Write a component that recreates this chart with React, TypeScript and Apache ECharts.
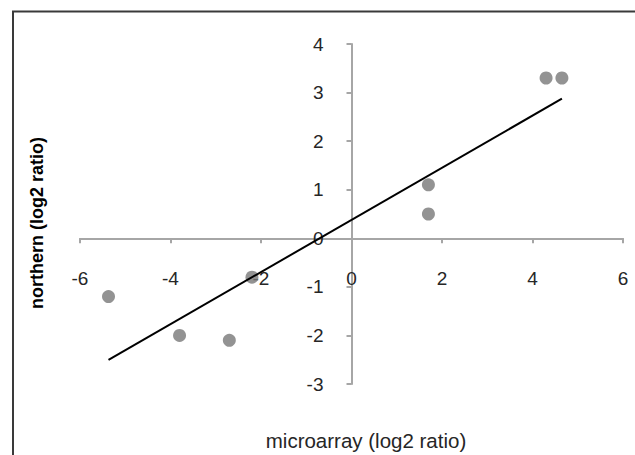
import React, { useEffect, useRef } from "react";
import * as echarts from "echarts";

const microarray = [-5.37, -3.8, -2.7, -2.2, 1.7, 1.7, 4.3, 4.65];
const northern = [-1.2, -2.0, -2.1, -0.8, 1.1, 0.5, 3.3, 3.3];
const xTicks = { min: -6, max: 6, interval: 2 };
const yTicks = { min: -3, max: 4, interval: 1 };
const xTitle = "microarray (log2 ratio)";
const yTitle = "northern (log2 ratio)";

function regression(xs: number[], ys: number[]) {
  const n = xs.length;
  const mx = xs.reduce((a, b) => a + b, 0) / n;
  const my = ys.reduce((a, b) => a + b, 0) / n;
  let sxy = 0, sxx = 0;
  for (let i = 0; i < n; i++) {
    sxy += (xs[i] - mx) * (ys[i] - my);
    sxx += (xs[i] - mx) * (xs[i] - mx);
  }
  const slope = sxy / sxx;
  return { slope, intercept: my - slope * mx };
}

const W = 635;
const H = 455;
const G = { left: 80, right: 12, top: 44, bottom: 71 };

export default function App() {
  const ref = useRef<HTMLDivElement>(null);
  useEffect(() => {
    if (!ref.current) return;
    const chart = echarts.init(ref.current, null, { renderer: "svg" });
    const { slope, intercept } = regression(microarray, northern);
    const x0 = Math.min(...microarray);
    const x1 = Math.max(...microarray);
    const font = "Arial, 'Liberation Sans', sans-serif";
    // shift axes so they cross at the origin (labels follow the lines)
    const gw = W - G.left - G.right;
    const gh = H - G.top - G.bottom;
    const zeroX = G.left + (gw * (0 - xTicks.min)) / (xTicks.max - xTicks.min);
    const zeroY = G.top + (gh * (yTicks.max - 0)) / (yTicks.max - yTicks.min);
    const yOffset = -(zeroX - G.left);
    const xOffset = -(H - G.bottom - zeroY);
    chart.setOption({
      animation: false,
      backgroundColor: "#fff",
      grid: G,
      xAxis: {
        type: "value",
        min: xTicks.min,
        max: xTicks.max,
        interval: xTicks.interval,
        offset: xOffset,
        axisLine: { onZero: false, lineStyle: { color: "#a6a6a6", width: 2 } },
        axisTick: { show: true, length: 5, lineStyle: { color: "#a6a6a6", width: 2 } },
        axisLabel: { margin: 31, fontSize: 19, color: "#262626", fontFamily: font },
        splitLine: { show: false },
      },
      yAxis: {
        type: "value",
        min: yTicks.min,
        max: yTicks.max,
        interval: yTicks.interval,
        offset: yOffset,
        axisLine: { show: true, onZero: false, lineStyle: { color: "#a6a6a6", width: 2 } },
        axisTick: { show: true, length: 5, lineStyle: { color: "#a6a6a6", width: 2 } },
        axisLabel: { margin: 28, fontSize: 19, color: "#262626", fontFamily: font },
        splitLine: { show: false },
      },
      graphic: [
        {
          type: "rect",
          shape: { x: 13, y: 11.5, width: 700, height: 500 },
          style: { fill: "none", stroke: "#3a3a3a", lineWidth: 2 },
          silent: true,
        },
        {
          type: "text",
          x: 366,
          y: 440,
          style: {
            text: xTitle,
            font: `20.5px ${font}`,
            fill: "#262626",
            textAlign: "center",
            textVerticalAlign: "middle",
          },
        },
        {
          type: "text",
          x: 37,
          y: 223,
          rotation: Math.PI / 2,
          style: {
            text: yTitle,
            font: `bold 18px ${font}`,
            fill: "#000",
            textAlign: "center",
            textVerticalAlign: "middle",
          },
        },
      ],
      series: [
        {
          type: "scatter",
          data: microarray.map((x, i) => [x, northern[i]]),
          symbolSize: 13,
          itemStyle: { color: "#787878" },
          z: 2,
        },
        {
          type: "line",
          data: [
            [x0, slope * x0 + intercept],
            [x1, slope * x1 + intercept],
          ],
          showSymbol: false,
          symbol: "none",
          lineStyle: { color: "#000", width: 2 },
          z: 3,
        },
      ],
    });
    return () => chart.dispose();
  }, []);
  return (
    <div
      ref={ref}
      style={{ position: "absolute", left: 0, top: 0, width: W, height: H }}
    />
  );
}
